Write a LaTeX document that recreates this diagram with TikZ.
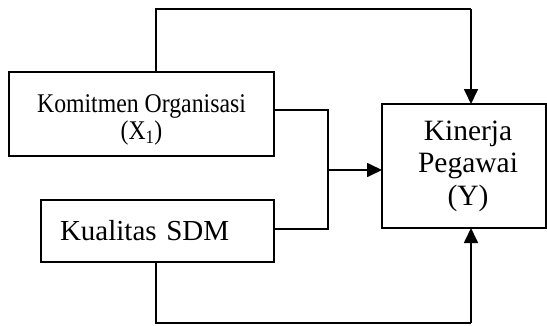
\documentclass[tikz,border=0pt]{standalone}
\usepackage{fontspec}
\setmainfont{Liberation Serif}
\newfontfamily\narrowserif[FakeStretch=0.88]{Liberation Serif}
\usetikzlibrary{arrows.meta}
\begin{document}
\begin{tikzpicture}[x=1pt,y=-1pt,
  box/.style={draw,line width=1.2pt,inner sep=0pt,outer sep=0pt},
  conn/.style={line width=1.2pt},
  arr/.style={line width=1.7pt,-{Triangle[length=15pt,width=14pt]}}]
\useasboundingbox (0,0) rectangle (547,325);
\node[box,minimum width=265,minimum height=84,align=center,font=\narrowserif\fontsize{27}{27}\selectfont] (k) at (141.5,114)
  {\rule{0pt}{29pt}Komitmen Organisasi\\(X\textsubscript{1})};
\node[box,minimum width=233,minimum height=62,text width=195,align=left,inner xsep=19pt,font=\fontsize{29}{32}\selectfont] (s) at (157.5,231)
  {Kualitas SDM};
\node[box,minimum width=164,minimum height=124,align=center,font=\fontsize{29.5}{32.5}\selectfont] (y) at (464,166)
  {\hspace*{8pt}Kinerja\\\hspace*{8pt}Pegawai\\\hspace*{8pt}(Y)};
\coordinate (j) at (328,170);
\coordinate (t1) at (156,9);
\coordinate (t2) at (471,9);
\coordinate (b1) at (156,323);
\coordinate (b2) at (471,323);
\draw[conn] (k.north -| t1) -- (t1) -- (t2);
\draw[arr] (t2) -- (y.north -| t2);
\draw[conn] (s.south -| b1) -- (b1) -- (b2);
\draw[arr] (b2) -- (y.south -| b2);
\draw[conn] (k.east |- 0,110) -- (328,110) -- (328,229) -- (s.east |- 0,229);
\draw[arr] (j) -- (y.west |- j);
\end{tikzpicture}
\end{document}
